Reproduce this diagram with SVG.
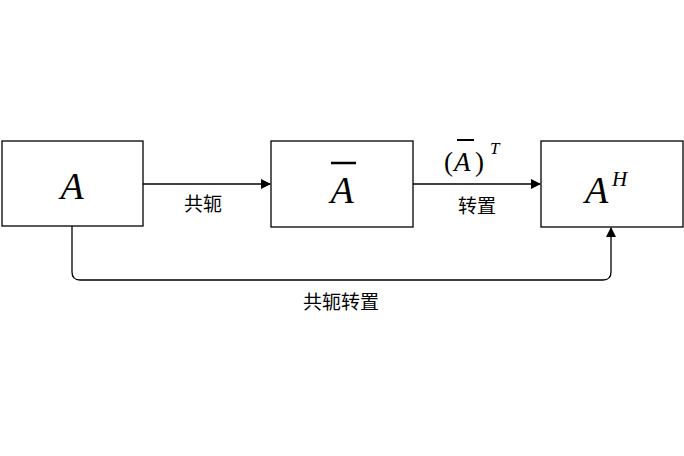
<svg xmlns="http://www.w3.org/2000/svg" width="684" height="456" viewBox="0 0 684 456">
<style>
.box{fill:#fff;stroke:#000;stroke-width:1.3}
.m{font-family:"Liberation Serif",serif;font-style:italic;fill:#000}
.c{font-family:"Liberation Sans","Noto Sans CJK SC",sans-serif;font-size:19px;fill:#000;text-anchor:middle}
.ln{fill:none;stroke:#000;stroke-width:1.3}
</style>
<defs><marker id="ar" markerWidth="10" markerHeight="10" refX="9" refY="5" orient="auto" markerUnits="userSpaceOnUse"><path d="M0,0L10,5L0,10z" fill="#000"/></marker></defs>
<rect width="684" height="456" fill="#fff"/>
<g id="nodeA"><rect class="box" x="2" y="141" width="141" height="85"/><text class="m" x="72" y="199" font-size="38" text-anchor="middle">A</text></g>
<g id="nodeAbar"><rect class="box" x="271" y="141" width="142" height="86"/><text class="m" x="342" y="203" font-size="38" text-anchor="middle">A</text><line x1="331" y1="163" x2="356" y2="163" stroke="#000" stroke-width="2.5"/></g>
<g id="nodeAH"><rect class="box" x="541" y="141" width="142" height="86"/><text class="m" x="585" y="203" font-size="38">A</text><text class="m" x="612" y="186" font-size="21">H</text></g>
<g id="connectors">
<line class="ln" x1="143" y1="184" x2="270" y2="184" marker-end="url(#ar)"/>
<line class="ln" x1="413" y1="184" x2="540" y2="184" marker-end="url(#ar)"/>
<path class="ln" d="M72,226V272Q72,280 80,280H603Q611,280 611,272V228" marker-end="url(#ar)"/>
</g>
<g id="labels">
<text class="c" x="203" y="211">共轭</text>
<text class="c" x="477" y="213">转置</text>
<text class="c" x="341" y="309">共轭转置</text>
<text x="444" y="171" font-family="Liberation Serif,serif" font-size="27">(</text>
<text class="m" x="454" y="171" font-size="27">A</text>
<line x1="457" y1="140" x2="474" y2="140" stroke="#000" stroke-width="2"/>
<text x="475" y="171" font-family="Liberation Serif,serif" font-size="27">)</text>
<text class="m" x="490" y="154" font-size="17">T</text>
</g>
</svg>
